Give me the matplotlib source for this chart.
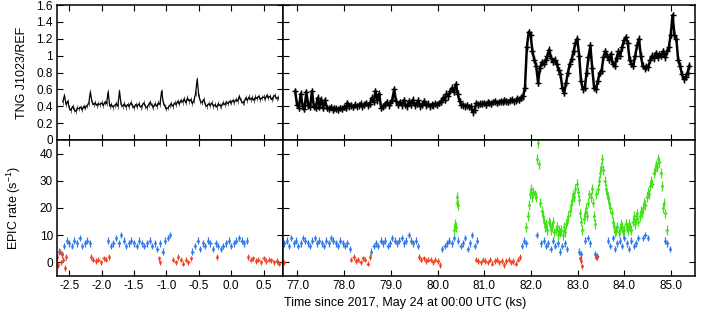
import matplotlib
matplotlib.use('Agg')
import matplotlib.pyplot as plt
import numpy as np

plt.rcParams['font.family'] = ['Liberation Sans', 'DejaVu Sans']
plt.rcParams['font.size'] = 8.5
plt.rcParams['mathtext.fontset'] = 'custom'
plt.rcParams['mathtext.rm'] = 'Liberation Sans'
plt.rcParams['mathtext.default'] = 'regular'

# TNG J1023/REF ratio, first night part (ks), sampled every 0.025 ks from -2.6
tng_left_t0 = -2.6
tng_left_dt = 0.025
tng_left = [0.45, 0.53, 0.42, 0.46, 0.38, 0.35, 0.40, 0.36, 0.34, 0.38,
            0.37, 0.39, 0.36, 0.40, 0.38, 0.41, 0.43, 0.57, 0.45, 0.42,
            0.44, 0.41, 0.43, 0.42, 0.44, 0.41, 0.45, 0.43, 0.57, 0.40,
            0.42, 0.39, 0.41, 0.43, 0.40, 0.58, 0.42, 0.40, 0.43, 0.39,
            0.42, 0.40, 0.44, 0.41, 0.38, 0.42, 0.40, 0.43, 0.39, 0.41,
            0.44, 0.40, 0.38, 0.42, 0.45, 0.41, 0.39, 0.43, 0.40, 0.44,
            0.42, 0.58, 0.45, 0.40, 0.37, 0.38, 0.41, 0.43, 0.40, 0.44,
            0.42, 0.46, 0.43, 0.47, 0.45, 0.49, 0.44, 0.50, 0.46, 0.48,
            0.43, 0.47, 0.55, 0.72, 0.52, 0.46, 0.44, 0.48, 0.42, 0.40,
            0.43, 0.41, 0.44, 0.40, 0.42, 0.39, 0.43, 0.41, 0.40, 0.44,
            0.42, 0.45, 0.43, 0.46, 0.44, 0.47, 0.45, 0.48, 0.46, 0.52,
            0.47, 0.44, 0.45, 0.50, 0.47, 0.51, 0.48, 0.50, 0.47, 0.51,
            0.49, 0.52, 0.48, 0.50, 0.51, 0.49, 0.53, 0.50, 0.52, 0.48,
            0.51, 0.53, 0.49, 0.50]

# second part, every 0.04 ks from 76.95
tng_right_t0 = 76.95
tng_right_dt = 0.04
tng_right = [0.58, 0.42, 0.38, 0.55, 0.40, 0.37, 0.57, 0.41, 0.39, 0.58,
             0.40, 0.38, 0.50, 0.39, 0.48, 0.38, 0.47, 0.38, 0.37, 0.39,
             0.36, 0.38, 0.37, 0.36, 0.38, 0.37, 0.39, 0.38, 0.44, 0.40,
             0.41, 0.39, 0.42, 0.40, 0.41, 0.43, 0.40, 0.42, 0.44, 0.41,
             0.43, 0.50, 0.45, 0.58, 0.47, 0.55, 0.38, 0.40, 0.42, 0.45,
             0.41, 0.44, 0.48, 0.60, 0.46, 0.42, 0.45, 0.41, 0.47, 0.42,
             0.40, 0.46, 0.42, 0.48, 0.41, 0.43, 0.47, 0.40, 0.42, 0.46,
             0.41, 0.43, 0.40, 0.42, 0.41, 0.43, 0.42, 0.44, 0.45, 0.50,
             0.48, 0.55, 0.52, 0.58, 0.62, 0.57, 0.66, 0.55, 0.46, 0.42,
             0.41, 0.40, 0.41, 0.39, 0.40, 0.33, 0.36, 0.44, 0.42, 0.43,
             0.43, 0.44, 0.42, 0.45, 0.44, 0.43, 0.45, 0.46, 0.44, 0.45,
             0.46, 0.45, 0.47, 0.46, 0.45, 0.47, 0.48, 0.46, 0.47, 0.49,
             0.48, 0.50, 0.52, 0.62, 1.10, 1.28, 1.25, 1.05, 0.95, 0.88,
             0.68, 0.85, 0.92, 0.90, 0.95, 1.00, 1.07, 0.97, 0.93, 0.95,
             0.90, 0.83, 0.78, 0.62, 0.56, 0.68, 0.80, 0.90, 0.96, 1.05,
             1.15, 1.20, 1.00, 0.70, 0.60, 0.62, 0.80, 0.98, 1.12, 0.85,
             0.62, 0.60, 0.70, 0.80, 0.82, 0.98, 1.05, 1.00, 0.95, 1.02,
             0.90, 0.88, 0.97, 1.05, 1.00, 1.10, 1.18, 1.22, 1.15, 0.95,
             0.90, 0.88, 1.00, 1.12, 1.20, 1.00, 0.88, 0.85, 0.87, 0.86,
             0.95, 1.00, 0.97, 1.03, 0.98, 1.02, 1.00, 1.05, 0.98, 1.05,
             1.10, 1.25, 1.48, 1.25, 1.20, 0.95, 0.88, 0.78, 0.72, 0.75,
             0.80, 0.88]

# EPIC rate segments: (start ks, step ks, rates)
epic_blue = [
    (-2.66, 0.04, [4, 3, 6, 8, 7, 6, 8, 7, 9, 6, 7, 8, 7]),
    (-1.90, 0.04, [8, 6, 7, 9, 7, 10, 8, 6, 7, 8, 7, 6, 8, 7, 6, 7, 8, 6,
                   7, 5, 7, 4, 8, 9, 10]),
    (-0.60, 0.04, [4, 6, 8, 5, 7, 6, 8, 7, 5, 7, 6, 5, 6, 7, 8, 6, 7, 8, 9,
                   8, 7, 8]),
    (76.72, 0.05, [7, 8, 6, 9, 7, 8, 6, 7, 9, 8, 7, 6, 8, 9, 7, 8, 7, 6, 8,
                   7, 9, 8, 7, 6, 8, 7, 6, 7, 5]),
    (78.58, 0.05, [4, 6, 7, 6, 8, 7, 8, 6, 7, 9, 8, 7, 8, 9, 7, 8, 10, 8, 7,
                   8, 6]),
    (80.10, 0.05, [5, 6, 7, 8, 7, 9]),
    (80.44, 0.05, [8, 6, 7, 9, 5, 7, 10, 6, 8]),
    (81.80, 0.05, [6, 8, 7]),
    (82.12, 0.05, [10]),
    (82.22, 0.05, [7, 8, 6, 7, 5, 8, 6, 7, 4, 6, 7, 5]),
    (83.02, 0.04, [4, 3]),
    (83.16, 0.05, [8, 9, 7]),
    (83.37, 0.04, [3, 2]),
    (83.65, 0.05, [8, 6, 9, 5, 7, 8, 6, 9, 7, 5, 8, 6, 7, 9]),
    (84.40, 0.05, [9, 10, 9]),
    (84.87, 0.05, [8, 7, 5]),
]
epic_red = [
    (-2.69, 0.02, [2, -1, 4, 0, 3, 1, -2, 2]),
    (-2.17, 0.04, [2, 1, 0.5, 1, 0, 1.5, 1, 2]),
    (-1.11, 0.01, [1.5, 0]),
    (-0.90, 0.04, [1, 0, 2, 1, -0.5, 1, 0, 1.5]),
    (-0.22, 0.04, [2]),
    (0.26, 0.04, [2, 1, 1.5, 0.5, 1, 0, 1.5, 0.5, 1, 0.8, 0, 0.5, -0.5, 0.3]),
    (76.72, 0.05, [0]),
    (78.15, 0.05, [1, 2, 0.5, 1, 0, 1.5, 1, -0.5, 2]),
    (79.60, 0.05, [2, 1, 1.5, 0.5, 1, 1, 0, 1, 0.5, -1]),
    (80.82, 0.05, [1, 0.5, 0, 1, 0.5, 0, 1, -0.5, 0.5, 1, 0, 0.5, -1, 0.5,
                   1, 0, 0.5, -0.5, 1, 2]),
    (83.05, 0.02, [1.5, 0.5, -1.5]),
    (83.40, 0.02, [2.0, 2.5]),
]
epic_green = [
    (80.36, 0.015, [12, 14, 13, 22, 24, 21]),
    (81.90, 0.025, [13, 17, 21, 25, 27, 24, 26, 25, 24, 38,
                    44, 36, 22, 19, 17, 15, 13, 14, 12, 15,
                    14, 12, 13, 15, 11, 12, 13, 10, 12, 11,
                    12, 10, 13, 11, 14, 15, 17, 19, 21, 23,
                    25, 24, 27, 29, 26, 23, 18, 15, 12, 16,
                    18, 20, 17, 22, 25, 24, 27, 22, 17, 14,
                    25, 27, 30, 33, 35, 38, 34, 30, 27, 25,
                    24, 22, 20, 18, 15, 13, 11, 12, 13, 11,
                    12, 14, 13, 11, 12, 14, 13, 12, 14, 13,
                    12, 15, 17, 14, 16, 18, 15, 17, 19, 18,
                    20, 22, 21, 24, 26, 25, 28, 30, 29, 33,
                    34, 36, 35, 38, 37, 33, 28, 20, 22, 18,
                    12]),
]

blue = '#2f7aea'
red = '#ee4422'
green = '#44e01c'


def series(segs):
    t = np.concatenate([t0 + dt * np.arange(len(v)) for t0, dt, v in segs])
    r = np.concatenate([np.array(v, dtype=float) for t0, dt, v in segs])
    return t, r


W, H = 709, 314
fig = plt.figure(figsize=(W / 100, H / 100), dpi=100)
xl, wl = 57 / W, 226 / W
xr, wr = 283 / W, 412 / W
yt, ht = 1 - 140 / H, 135 / H
yb, hb = 1 - 276 / H, 136 / H
ax_tl = fig.add_axes([xl, yt, wl, ht])
ax_tr = fig.add_axes([xr, yt, wr, ht])
ax_bl = fig.add_axes([xl, yb, wl, hb])
ax_br = fig.add_axes([xr, yb, wr, hb])

# top panels
t = tng_left_t0 + tng_left_dt * np.arange(len(tng_left))
ax_tl.errorbar(t, tng_left, yerr=0.03, fmt='-', color='k', lw=0.9,
               ecolor='#666666', elinewidth=0.7)
t = tng_right_t0 + tng_right_dt * np.arange(len(tng_right))
ax_tr.errorbar(t, tng_right, yerr=0.04, fmt='-+', color='k', lw=1.8,
               ms=4, mew=1.0, elinewidth=1.0)

# bottom panels
for segs, c, ye in [(epic_blue, blue, 1.2), (epic_red, red, 1.0),
                    (epic_green, green, 1.8)]:
    t, r = series(segs)
    for ax, xe in ((ax_bl, 0.018), (ax_br, 0.025)):
        ax.errorbar(t, r, yerr=ye, xerr=xe, fmt='o', color=c, ms=2.0,
                    mew=0, ecolor=c, elinewidth=0.9)

for ax in (ax_tl, ax_bl):
    ax.set_xlim(-2.69, 0.80)
    ax.set_xticks([-2.5, -2.0, -1.5, -1.0, -0.5, 0.0, 0.5])
for ax in (ax_tr, ax_br):
    ax.set_xlim(76.69, 85.51)
    ax.set_xticks(np.arange(77, 86, 1.0))
for ax in (ax_tl, ax_tr):
    ax.set_ylim(0, 1.6)
    ax.set_yticks([0, 0.2, 0.4, 0.6, 0.8, 1.0, 1.2, 1.4, 1.6])
    ax.set_xticklabels([])
for ax in (ax_bl, ax_br):
    ax.set_ylim(-5, 45)
    ax.set_yticks([0, 10, 20, 30, 40])
ax_tl.set_yticklabels(['0', '0.2', '0.4', '0.6', '0.8', '1', '1.2', '1.4', '1.6'])
ax_bl.set_xticklabels(['-2.5', '-2.0', '-1.5', '-1.0', '-0.5', '0.0', '0.5'])
ax_br.set_xticklabels(['%.1f' % v for v in np.arange(77, 86, 1.0)])
ax_tr.set_yticklabels([])
ax_br.set_yticklabels([])

for ax in (ax_tl, ax_tr, ax_bl, ax_br):
    ax.tick_params(direction='in', top=True, right=True, length=4,
                   width=0.8, labelsize=8.5, pad=3)
    for s in ax.spines.values():
        s.set_linewidth(1.1)

ax_tl.set_ylabel('TNG J1023/REF', fontsize=9, labelpad=6)
ax_bl.set_ylabel('EPIC rate (s$^{\\mathrm{-1}}$)', fontsize=9, labelpad=12)
fig.text(405 / W, 1 - 303 / H, 'Time since 2017, May 24 at 00:00 UTC (ks)',
         ha='center', va='center', fontsize=9)

fig.savefig('out.png', dpi=100)
